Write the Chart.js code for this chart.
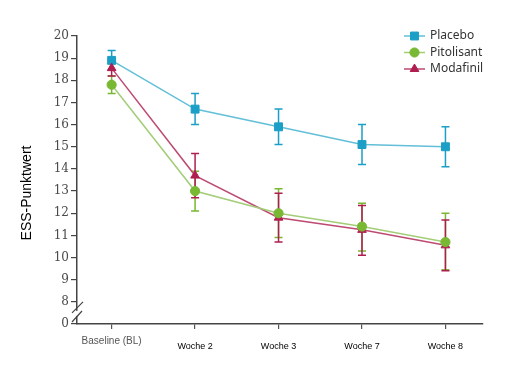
<!DOCTYPE html>
<html lang="de">
  <head>
    <meta charset="UTF-8" />
    <script src="https://cdn.jsdelivr.net/npm/chart.js@4.4.0/dist/chart.umd.min.js"></script>
    <title>ESS-Punktwert</title>
    <style>
      body {
        margin: 0;
        padding: 0;
        background: #fff;
      }
      .container {
        width: 513px;
        height: 370px;
      }
    </style>
  </head>
  <body>
    <div class="container">
      <canvas id="chart"></canvas>
    </div>
    <script>
      const categories = ['Baseline (BL)', 'Woche 2', 'Woche 3', 'Woche 7', 'Woche 8']
      const yTicks = [7, 8, 9, 10, 11, 12, 13, 14, 15, 16, 17, 18, 19, 20]

      const placebo = [18.9, 16.7, 15.9, 15.1, 15.0]
      const placeboHi = [19.35, 17.4, 16.7, 16.0, 15.9]
      const placeboLo = [18.45, 16.0, 15.1, 14.2, 14.1]

      const pitolisant = [17.8, 13.0, 12.0, 11.4, 10.7]
      const pitolisantHi = [18.2, 13.9, 13.1, 12.45, 12.0]
      const pitolisantLo = [17.4, 12.1, 10.9, 10.3, 9.45]

      const modafinil = [18.55, 13.7, 11.8, 11.25, 10.55]
      const modafinilHi = [18.9, 14.7, 12.9, 12.35, 11.7]
      const modafinilLo = [18.2, 12.7, 10.7, 10.1, 9.4]

      const series = [
        { name: 'Placebo', values: placebo, hi: placeboHi, lo: placeboLo,
          marker: '#1b9fc6', line: '#62bfd8', style: 'rect', radius: 5.6, order: 3 },
        { name: 'Pitolisant', values: pitolisant, hi: pitolisantHi, lo: pitolisantLo,
          marker: '#78b833', line: '#a3cd78', style: 'circle', radius: 4.6, order: 1 },
        { name: 'Modafinil', values: modafinil, hi: modafinilHi, lo: modafinilLo,
          marker: '#b01e4f', line: '#bd4a72', style: 'triangle', radius: 5, order: 2 },
      ]

      // error bars, axis break, x labels, y title and legend
      const extras = {
        id: 'extras',
        beforeDatasetsDraw(chart) {
          const { ctx, scales: { x, y } } = chart
          ctx.save()
          ctx.lineWidth = 1.5
          series.forEach((s) => {
            ctx.strokeStyle = s.marker
            s.values.forEach((v, i) => {
              const px = x.getPixelForValue(i)
              const top = y.getPixelForValue(s.hi[i])
              const bot = y.getPixelForValue(s.lo[i])
              ctx.beginPath()
              ctx.moveTo(px, top)
              ctx.lineTo(px, bot)
              ctx.moveTo(px - 4, top)
              ctx.lineTo(px + 4, top)
              ctx.moveTo(px - 4, bot)
              ctx.lineTo(px + 4, bot)
              ctx.stroke()
            })
          })
          ctx.restore()
        },
        afterDraw(chart) {
          const { ctx, scales: { x, y } } = chart
          ctx.save()

          // axis break
          const ax = x.left
          const y8 = y.getPixelForValue(8)
          const y0 = y.getPixelForValue(7)
          ctx.fillStyle = '#fff'
          ctx.fillRect(ax - 2, y8 + 9, 4, 5)
          ctx.strokeStyle = '#444'
          ctx.lineWidth = 1.2
          ctx.beginPath()
          ctx.moveTo(ax - 5, y8 + 11)
          ctx.lineTo(ax + 6, y8)
          ctx.moveTo(ax - 5, y0 - 2)
          ctx.lineTo(ax + 5, y0 - 13)
          ctx.stroke()

          // y axis title
          ctx.save()
          ctx.translate(27, 193)
          ctx.rotate(-Math.PI / 2)
          ctx.textAlign = 'center'
          ctx.textBaseline = 'middle'
          ctx.font = '14px "Liberation Sans"'
          ctx.fillStyle = '#000'
          ctx.fillText('ESS-Punktwert', 0, 0)
          ctx.restore()

          // category labels
          ctx.textAlign = 'center'
          ctx.textBaseline = 'middle'
          categories.forEach((c, i) => {
            const px = x.getPixelForValue(i)
            if (i === 0) {
              ctx.font = '10px "Liberation Sans"'
              ctx.fillStyle = '#555'
              ctx.fillText(c, px, 341)
            } else {
              ctx.font = '9px "Liberation Sans"'
              ctx.fillStyle = '#000'
              ctx.fillText(c, px, 347)
            }
          })

          // legend
          ctx.textAlign = 'left'
          ctx.font = '12px "Noto Sans"'
          series.forEach((s, i) => {
            const ly = 36 + i * 16.5
            ctx.strokeStyle = s.line
            ctx.lineWidth = 1.5
            ctx.beginPath()
            ctx.moveTo(404, ly)
            ctx.lineTo(425, ly)
            ctx.stroke()
            ctx.fillStyle = s.marker
            ctx.strokeStyle = s.marker
            ctx.lineWidth = 1
            Chart.helpers.drawPoint(ctx, { pointStyle: s.style, radius: s.radius, rotation: 0, borderWidth: 1 }, 414.5, ly)
            ctx.fillStyle = '#333'
            ctx.fillText(s.name, 430, ly)
          })
          ctx.restore()
        },
      }

      new Chart(document.getElementById('chart').getContext('2d'), {
        type: 'line',
        data: {
          datasets: series.map((s) => ({
            label: s.name,
            data: s.values.map((v, i) => ({ x: i, y: v })),
            borderColor: s.line,
            borderWidth: 1.5,
            pointStyle: s.style,
            pointRadius: s.radius,
            pointBackgroundColor: s.marker,
            pointBorderColor: s.marker,
            pointBorderWidth: 1,
            order: s.order,
            tension: 0,
          })),
        },
        options: {
          responsive: true,
          maintainAspectRatio: false,
          animation: false,
          layout: { padding: { top: 36, right: 30, left: 0, bottom: 0 } },
          plugins: {
            legend: { display: false },
            tooltip: { enabled: false },
          },
          scales: {
            x: {
              type: 'linear',
              min: -0.415,
              max: 4.45,
              afterBuildTicks: (scale) => {
                scale.ticks = categories.map((c, i) => ({ value: i }))
              },
              afterFit: (scale) => {
                scale.height = 46
              },
              ticks: { display: false },
              grid: {
                drawOnChartArea: false,
                drawTicks: true,
                tickLength: 5,
                color: '#555',
                lineWidth: 1.2,
              },
              border: { color: '#444', width: 1.5 },
            },
            y: {
              min: 7,
              max: 20,
              afterBuildTicks: (scale) => {
                scale.ticks = yTicks.map((v) => ({ value: v }))
              },
              afterFit: (scale) => {
                scale.width = 77
              },
              ticks: {
                callback: (v) => (v === 7 ? '0' : String(v)),
                color: '#4a4a4a',
                font: { family: 'DejaVu Serif', size: 12 },
                padding: 2,
              },
              grid: {
                drawOnChartArea: false,
                drawTicks: true,
                tickLength: 6,
                color: '#444',
                lineWidth: 1.2,
              },
              border: { color: '#444', width: 1.5 },
            },
          },
        },
        plugins: [extras],
      })
    </script>
  </body>
</html>
